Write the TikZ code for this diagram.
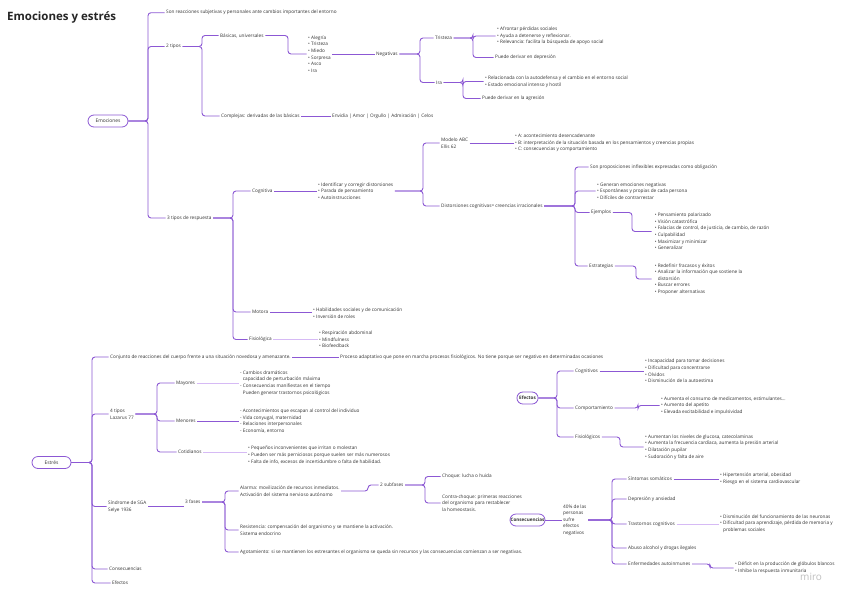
\documentclass[tikz,border=0pt]{standalone}
\usepackage{fontspec}
\setmainfont{Open Sans}
\usetikzlibrary{shapes.misc}
\definecolor{cdark}{RGB}{140,88,212}
\definecolor{clight}{RGB}{214,186,245}
\definecolor{txt}{RGB}{51,51,51}
\tikzset{
  t/.style={anchor=west, inner xsep=1.5pt, inner ysep=0.5pt, font=\fontsize{4.7}{6.6}\selectfont, text=txt, align=left},
  pill/.style={rounded rectangle, draw=cdark, line width=0.8pt, minimum height=12pt, inner xsep=2pt, font=\fontsize{4.9}{6}\selectfont, text=txt},
  c/.style={draw=cdark, line width=0.9pt, rounded corners=3pt},
  cl/.style={draw=clight, line width=0.9pt, rounded corners=3pt}
}
\begin{document}
\begin{tikzpicture}[x=1pt,y=-1pt]
\useasboundingbox (0,0) rectangle (848,600);
\fill[white] (0,0) rectangle (848,600);
% title
\node[anchor=west, inner sep=0pt, font=\fontsize{11.5}{12}\selectfont\bfseries, text=black!85] (title) at (7,17) {Emociones y estrés};
% trunk x-coordinates
\coordinate (xA) at (148,0);
\coordinate (xB) at (202,0);
\coordinate (xB2) at (288,0);
\coordinate (xC) at (420,0);
\coordinate (xD) at (473,0);
\coordinate (xE) at (463,0);
\coordinate (xF) at (233,0);
\coordinate (xG) at (423,0);
\coordinate (xH) at (575,0);
\coordinate (xI) at (632,0);
\coordinate (xJ) at (636,0);
\coordinate (xK) at (92,0);
\coordinate (xL) at (157,0);
\coordinate (xM) at (225,0);
\coordinate (xN) at (368,0);
\coordinate (xO) at (425,0);
\coordinate (xP) at (557,0);
\coordinate (xQ) at (638,0);
\coordinate (xR) at (620,0);
\coordinate (xS) at (612,0);
\coordinate (xT) at (710,0);

% ===== Emociones =====
\node[pill, minimum width=44pt] (emo) at (108,121) {Emociones};
\node[t] (son) at (164.5,12.7) {Son reacciones subjetivas y personales ante cambios importantes del entorno};
\node[t] (tipos2) at (164.5,46.5) {2 tipos};
\node[t] (bas) at (218.5,35.5) {Básicas, universales};
\node[t] (basl) at (306.5,54) {• Alegría\\• Tristeza\\• Miedo\\• Sorpresa\\• Asco\\• Ira};
\node[t] (neg) at (374.5,54) {Negativas};
\node[t] (tri) at (433.5,38) {Tristeza};
\node[t] (tril) at (495.5,36) {• Afrontar pérdidas sociales\\• Ayuda a detenerse y reflexionar.\\• Relevancia: facilita la búsqueda de apoyo social};
\node[t] (trid) at (493.5,57.5) {Puede derivar en depresión};
\node[t] (ira) at (434.5,82.5) {Ira};
\node[t] (iral) at (483.5,81.5) {• Relacionada con la autodefensa y el cambio en el entorno social\\• Estado emocional intenso y hostil};
\node[t] (irad) at (480.5,98.5) {Puede derivar en la agresión};
\node[t] (comp) at (219.5,116) {Complejas: derivadas de las básicas};
\node[t] (compl) at (330.5,116) {Envidia | Amor | Orgullo | Admiración | Celos};
\node[t] (resp) at (165.5,218) {3 tipos de respuesta};
\node[t] (cog) at (250.5,191) {Cognitiva};
\node[t] (cogl) at (316.5,191) {• Identificar y corregir distorsiones\\• Parada de pensamiento\\• Autoinstrucciones};
\node[t] (abc) at (439.5,143) {Modelo ABC\\Ellis 62};
\node[t] (abcl) at (513.5,143) {• A: acontecimiento desencadenante\\• B: interpretación de la situación basada en los pensamientos y creencias propias\\• C: consecuencias y comportamiento};
\node[t] (dist) at (439.5,206) {Distorsiones cognitivas= creencias irracionales};
\node[t] (prop) at (588.5,167) {Son proposiciones inflexibles expresadas como obligación};
\node[t] (distl) at (595.5,191) {• Generan emociones negativas\\• Espontáneas y propias de cada persona\\• Difíciles de contrarrestar};
\node[t] (ej) at (589.5,212.5) {Ejemplos};
\node[t] (ejl) at (651.5,231.5) {\,\,• Pensamiento polarizado\\\,\,• Visión catastrófica\\\,\,• Falacias de control, de justicia, de cambio, de razón\\\,\,• Culpabilidad\\\,\,• Maximizar y minimizar\\\,\,• Generalizar};
\node[t] (est) at (587.5,266) {Estrategias};
\node[t] (estl) at (651.5,279) {\,\,• Redefinir fracasos y éxitos\\\,\,• Analizar la información que sostiene la\\\,\,\phantom{• }distorsión\\\,\,• Buscar errores\\\,\,• Proponer alternativas};
\node[t] (mot) at (250.5,312) {Motora};
\node[t] (motl) at (311.5,313) {• Habilidades sociales y de comunicación\\• Inversión de roles};
\node[t] (fis) at (247.5,339.5) {Fisiológica};
\node[t] (fisl) at (317.5,339.5) {• Respiración abdominal\\• Mindfulness\\• Biofeedback};

\draw[c] (emo.east) -- (emo.east -| xA) |- (son.west);
\draw[c] (emo.east) -- (emo.east -| xA) |- (tipos2.west);
\draw[c] (emo.east) -- (emo.east -| xA) |- (resp.west);
\draw[c] (tipos2.east) -- (tipos2.east -| xB) |- (bas.west);
\draw[c] (tipos2.east) -- (tipos2.east -| xB) |- (comp.west);
\draw[c] (bas.east) -- (bas.east -| xB2) |- (basl.west);
\draw[c] (basl.east) -- (neg.west);
\draw[c] (neg.east) -- (neg.east -| xC) |- (tri.west);
\draw[c] (neg.east) -- (neg.east -| xC) |- (ira.west);
\draw[c] (tri.east) -- (tri.east -| xD) |- (tril.west);
\draw[c] (tri.east) -- (tri.east -| xD) |- (trid.west);
\draw[c] (ira.east) -- (ira.east -| xE) |- (iral.west);
\draw[c] (ira.east) -- (ira.east -| xE) |- (irad.west);
\draw[c] (comp.east) -- (compl.west);
\draw[c] (resp.east) -- (resp.east -| xF) |- (cog.west);
\draw[c] (resp.east) -- (resp.east -| xF) |- (mot.west);
\draw[c] (resp.east) -- (resp.east -| xF) |- (fis.west);
\draw[c] (cog.east) -- (cogl.west);
\draw[c] (cogl.east) -- (cogl.east -| xG) |- (abc.west);
\draw[c] (cogl.east) -- (cogl.east -| xG) |- (dist.west);
\draw[c] (abc.east) -- (abc.east -| abcl.west);
\draw[c] (dist.east) -- (dist.east -| xH) |- (prop.west);
\draw[c] (dist.east) -- (dist.east -| xH) |- (distl.west);
\draw[c] (dist.east) -- (dist.east -| xH) |- (ej.west);
\draw[c] (dist.east) -- (dist.east -| xH) |- (est.west);
\draw[c] (ej.east) -- (ej.east -| xI) |- (ejl.west);
\draw[c] (est.east) -- (est.east -| xJ) |- (estl.west);
\draw[c] (mot.east) -- (mot.east -| motl.west);
\draw[cl] (fis.east) -- (fisl.west);

% ===== Estres =====
\node[pill, minimum width=43pt] (estres) at (51.5,462.5) {Estrés};
\node[t] (conj) at (108.5,357) {Conjunto de reacciones del cuerpo frente a una situación novedosa y amenazante.};
\node[t] (proc) at (338.5,357) {Proceso adaptativo que pone en marcha procesos fisiológicos. No tiene porque ser negativo en determinadas ocasiones};
\node[t] (laz) at (108.5,414) {4 tipos\\Lazarus 77};
\node[t] (may) at (174.5,383) {Mayores};
\node[t] (mayl) at (238.5,383) {- Cambios dramáticos\\\phantom{- }capacidad de perturbación máxima\\- Consecuencias manifiestas en el tiempo\\\phantom{- }Pueden generar trastornos psicológicos};
\node[t] (men) at (174.5,421) {Menores};
\node[t] (menl) at (238.5,421) {- Acontecimientos que escapan al control del individuo\\- Vida conyugal, maternidad\\- Relaciones interpersonales\\- Economía, entorno};
\node[t] (cot) at (176.5,452) {Cotidianos};
\node[t] (cotl) at (246.5,455) {• Pequeños inconvenientes que irritan o molestan\\• Pueden ser más perniciosos porque suelen ser más numerosos\\• Falta de info, excesos de incertidumbre o falta de habilidad.};
\node[t] (sin) at (106.5,506.5) {Síndrome de SGA\\Selye 1936};
\node[t] (fases) at (183.5,502) {3 fases};
\node[t] (ala) at (238.5,491) {Alarma: movilización de recursos inmediatos.\\Activación del sistema nervioso autónomo};
\node[t] (sub) at (378.5,485) {2 subfases};
\node[t] (cho) at (440.5,476.5) {Choque: lucha o huida};
\node[t] (con) at (440.5,503) {Contra-choque: primeras reacciones\\del organismo para restablecer\\la homeostasis.};
\node[t] (res) at (238.5,530) {Resistencia: compensación del organismo y se mantiene la activación.\\Sistema endocrino};
\node[t] (ago) at (238.5,552) {Agotamiento: si se mantienen los estresantes el organismo se queda sin recursos y las consecuencias comienzan a ser negativas.};
\node[t] (cons) at (107.5,569) {Consecuencias};
\node[t] (efe) at (110.5,583) {Efectos};

\draw[c] (estres.east) -- (estres.east -| xK) |- (conj.west);
\draw[c] (estres.east) -- (estres.east -| xK) |- (laz.west);
\draw[c] (estres.east) -- (estres.east -| xK) |- (sin.west);
\draw[c] (estres.east) -- (estres.east -| xK) |- (cons.west);
\draw[c] (estres.east) -- (estres.east -| xK) |- (efe.west);
\draw[c] (conj.east) -- (proc.west);
\draw[c] (laz.east) -- (laz.east -| xL) |- (may.west);
\draw[c] (laz.east) -- (laz.east -| xL) |- (men.west);
\draw[c] (laz.east) -- (laz.east -| xL) |- (cot.west);
\draw[cl] (may.east) -- (may.east -| mayl.west);
\draw[c] (men.east) -- (men.east -| menl.west);
\draw[cl] (cot.east) -- (cot.east -| cotl.west);
\draw[c] (sin.east) -- (sin.east -| fases.west);
\draw[c] (fases.east) -- (fases.east -| xM) |- (ala.west);
\draw[c] (fases.east) -- (fases.east -| xM) |- (res.west);
\draw[c] (fases.east) -- (fases.east -| xM) |- (ago.west);
\draw[c] (ala.east) -- (ala.east -| xN) |- (sub.west);
\draw[c] (sub.east) -- (sub.east -| xO) |- (cho.west);
\draw[c] (sub.east) -- (sub.east -| xO) |- (con.west);

% ===== Efectos =====
\node[pill, minimum width=21pt, font=\fontsize{4.6}{6}\selectfont\bfseries] (efbox) at (527.5,398) {Efectos};
\node[t] (cogn) at (573.5,371) {Cognitivos};
\node[t] (cognl) at (643.5,371) {• Incapacidad para tomar decisiones\\• Dificultad para concentrarse\\• Olvidos\\• Disminución de la autoestima};
\node[t] (compo) at (573.5,408) {Comportamiento};
\node[t] (compol) at (659.5,405.5) {• Aumenta el consumo de medicamentos, estimulantes...\\• Aumento del apetito\\• Elevada excitabilidad e impulsividad};
\node[t] (fisi) at (573.5,437) {Fisiológicos};
\node[t] (fisil) at (643.5,447) {• Aumentan los niveles de glucosa, catecolaminas\\• Aumenta la frecuencia cardíaca, aumenta la presión arterial\\• Dilatación pupilar\\• Sudoración y falta de aire};
\draw[c] (efbox.east) -- (efbox.east -| xP) |- (cogn.west);
\draw[c] (efbox.east) -- (efbox.east -| xP) |- (compo.west);
\draw[c] (efbox.east) -- (efbox.east -| xP) |- (fisi.west);
\draw[c] (cogn.east) -- (cogn.east -| cognl.west);
\draw[c] (compo.east) -- (compo.east -| xQ) |- (compol.west);
\draw[c] (fisi.east) -- (fisi.east -| xR) |- (fisil.west);

% ===== Consecuencias =====
\node[pill, minimum width=39pt, font=\fontsize{4.6}{6}\selectfont\bfseries] (consbox) at (527.5,520) {Consecuencias};
\node[t] (pct) at (561.5,520) {40\% de las\\personas\\sufre\\efectos\\negativos};
\node[t] (som) at (626.5,479) {Síntomas somáticos};
\node[t] (soml) at (718.5,478.5) {• Hipertensión arterial, obesidad\\• Riesgo en el sistema cardiovascular};
\node[t] (dep) at (626.5,499) {Depresión y ansiedad};
\node[t] (tra) at (626.5,524) {Trastornos cognitivos};
\node[t] (tral) at (718.5,523.5) {• Disminución del funcionamiento de las neuronas\\• Dificultad para aprendizaje, pérdida de memoria y\\\phantom{• }problemas sociales};
\node[t] (abu) at (626.5,548) {Abuso alcohol y drogas ilegales};
\node[t] (enf) at (626.5,564) {Enfermedades autoinmunes};
\node[t] (enfl) at (733.5,568) {• Déficit en la producción de glóbulos blancos\\• Inhibe la respuesta inmunitaria};
\draw[c] (consbox.east) -- (pct.west);
\draw[c] (pct.east) -- (pct.east -| xS) |- (som.west);
\draw[c] (pct.east) -- (pct.east -| xS) |- (dep.west);
\draw[c] (pct.east) -- (pct.east -| xS) |- (tra.west);
\draw[c] (pct.east) -- (pct.east -| xS) |- (abu.west);
\draw[c] (pct.east) -- (pct.east -| xS) |- (enf.west);
\draw[c] (som.east) -- (som.east -| soml.west);
\draw[cl] (tra.east) -- (tra.east -| tral.west);
\draw[c] (enf.east) -- (enf.east -| xT) |- (enfl.west);

% watermark
\node[anchor=west, inner sep=0pt, font=\fontsize{10}{10}\selectfont, text=black!25] (miro) at (800,577) {miro};
\end{tikzpicture}
\end{document}
